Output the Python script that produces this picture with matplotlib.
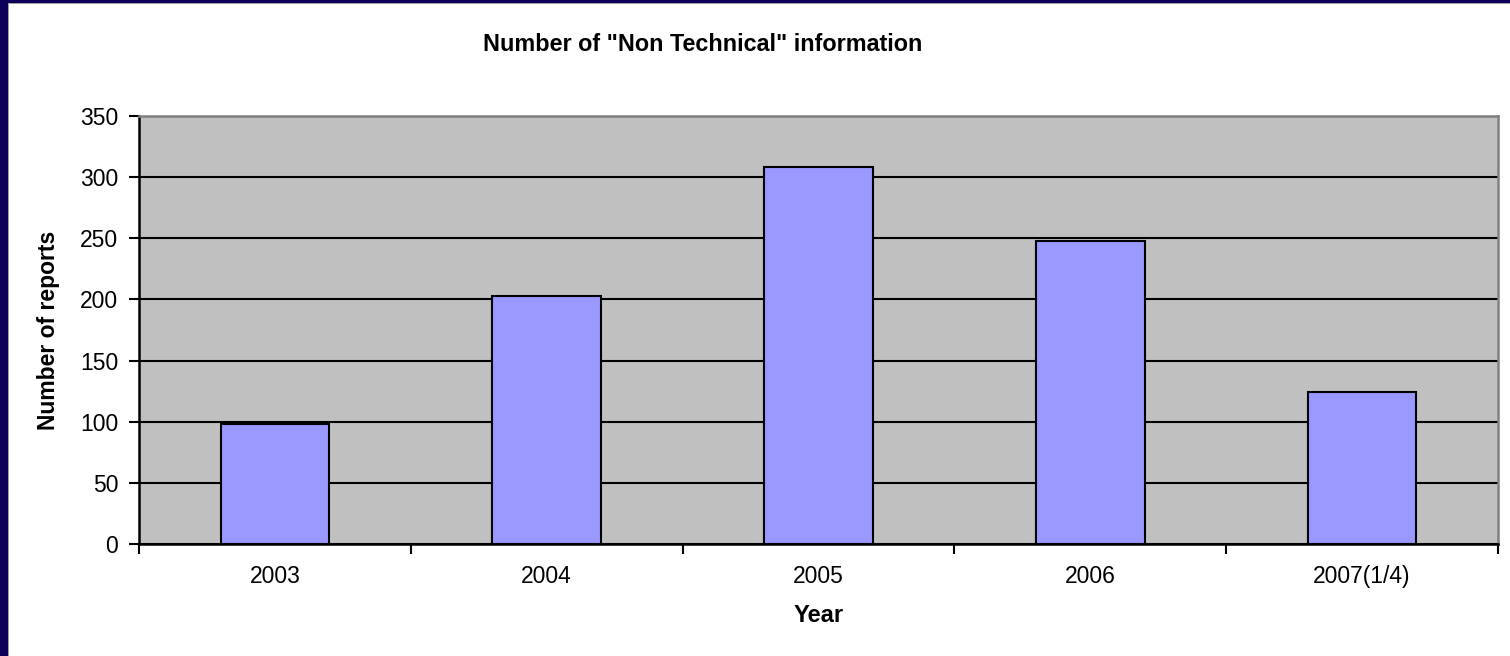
import matplotlib
matplotlib.use("Agg")
import matplotlib.pyplot as plt
from matplotlib.patches import Rectangle

categories = ["2003", "2004", "2005", "2006", "2007(1/4)"]
reports = [98, 203, 308, 248, 124]
yticks = [0, 50, 100, 150, 200, 250, 300, 350]

plt.rcParams['font.family'] = ['Liberation Sans', 'DejaVu Sans']

W, H = 1510, 656
fig = plt.figure(figsize=(W / 100, H / 100), dpi=100)
fig.patch.set_facecolor("white")

# navy frame on left and top
fig.patches.append(Rectangle((0, 0), 8 / W, 1, transform=fig.transFigure,
                             facecolor="#0d0058", edgecolor="none", zorder=0))
fig.patches.append(Rectangle((0, 1 - 3 / H), 1, 3 / H, transform=fig.transFigure,
                             facecolor="#0d0058", edgecolor="none", zorder=0))
fig.patches.append(Rectangle((8 / W, 0), 1.2 / W, 1 - 3 / H, transform=fig.transFigure,
                             facecolor="#a0a0a0", edgecolor="none", zorder=0))
fig.patches.append(Rectangle((8 / W, 1 - 4.2 / H), 1 - 8 / W, 1.2 / H, transform=fig.transFigure,
                             facecolor="#a0a0a0", edgecolor="none", zorder=0))

left, right, top, bottom = 139, 1498, 116, 544
ax = fig.add_axes([left / W, 1 - bottom / H, (right - left) / W, (bottom - top) / H])
ax.set_facecolor("#c0c0c0")

x = list(range(len(categories)))
ax.bar(x, reports, width=0.4, color="#9999ff", edgecolor="black", linewidth=1.5, zorder=3)

ax.set_xlim(-0.5, len(categories) - 0.5)
ax.set_ylim(0, 350)
ax.set_yticks(yticks)
ax.set_yticklabels([str(v) for v in yticks], fontsize=16.5)
ax.yaxis.grid(True, color="black", linewidth=1.5, zorder=1)
ax.set_axisbelow(True)

ax.set_xticks(x)
ax.set_xticklabels(categories, fontsize=16.5)
ax.tick_params(axis='x', length=0, pad=15)
ax.set_xticks([i - 0.5 for i in range(len(categories) + 1)], minor=True)
ax.tick_params(axis='x', which='minor', length=7, width=1.5, direction='out', color='black')
ax.tick_params(axis='y', length=7, width=1.5, direction='out', pad=8)

for s in ["left", "bottom"]:
    ax.spines[s].set_color("black")
    ax.spines[s].set_linewidth(1.8)
for s in ["top", "right"]:
    ax.spines[s].set_color("#808080")
    ax.spines[s].set_linewidth(1.8)

ax.set_xlabel("Year", fontsize=17, fontweight="bold", labelpad=12)
ax.set_ylabel("Number of reports", fontsize=16.5, fontweight="bold", labelpad=14)

fig.text(703 / W, 1 - 51 / H, 'Number of "Non Technical" information', ha="center", va="baseline",
         fontsize=16.8, fontweight="bold")

fig.savefig("out.png", dpi=100, facecolor=fig.get_facecolor())
